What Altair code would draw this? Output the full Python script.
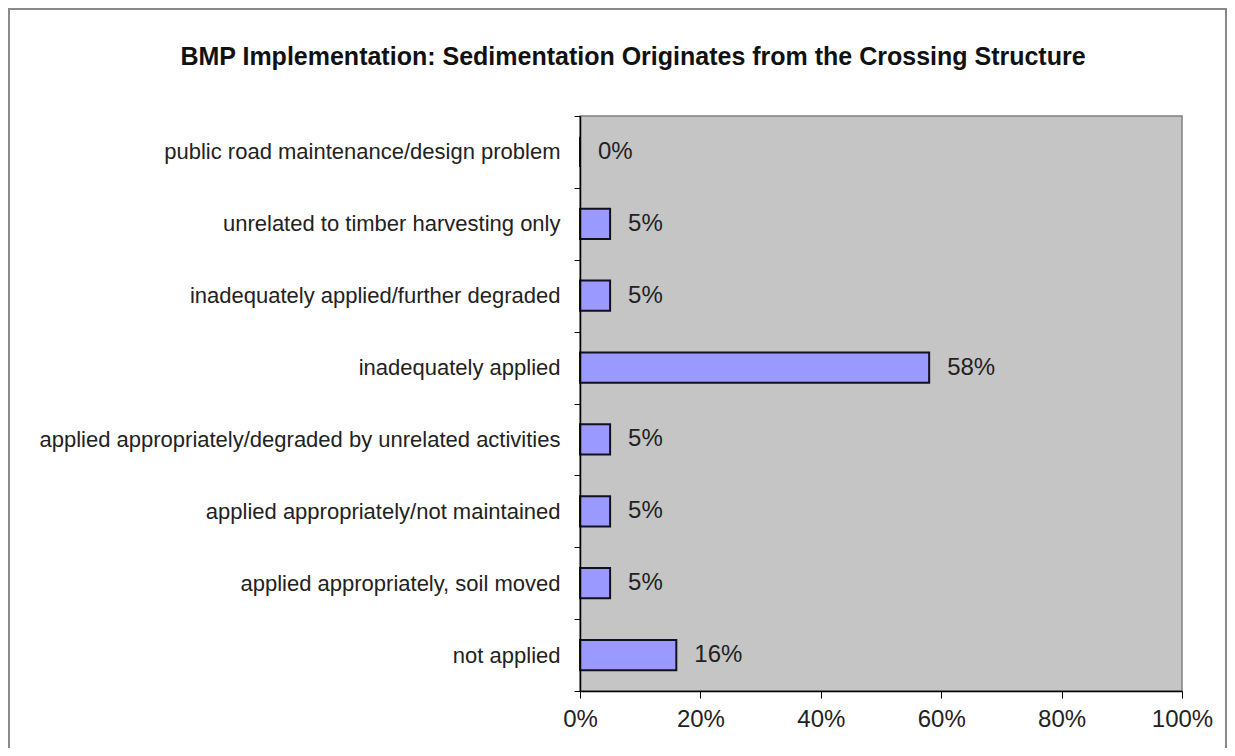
import altair as alt
import pandas as pd

title_text = "BMP Implementation: Sedimentation Originates from the Crossing Structure"
categories = [
    "public road maintenance/design problem",
    "unrelated to timber harvesting only",
    "inadequately applied/further degraded",
    "inadequately applied",
    "applied appropriately/degraded by unrelated activities",
    "applied appropriately/not maintained",
    "applied appropriately, soil moved",
    "not applied",
]
values = [0.0, 0.05, 0.05, 0.58, 0.05, 0.05, 0.05, 0.16]
labels = ["0%", "5%", "5%", "58%", "5%", "5%", "5%", "16%"]
x_ticks = [0, 0.2, 0.4, 0.6, 0.8, 1.0]

df = pd.DataFrame({"category": categories, "value": values, "label": labels})
title_df = pd.DataFrame({"t": [title_text]})

FONT = "Liberation Sans"

y_enc = alt.Y(
    "category:N",
    sort=categories,
    title=None,
    scale=alt.Scale(paddingInner=0, paddingOuter=0),
    axis=alt.Axis(
        tickBand="extent",
        labelFont=FONT,
        labelFontSize=22,
        labelColor="#222222",
        labelPadding=14,
        tickSize=6,
        tickColor="#000000",
        domainColor="#000000",
        domainWidth=1.5,
        labelLimit=700,
        zindex=1,
    ),
)
x_enc = alt.X(
    "value:Q",
    title=None,
    scale=alt.Scale(domain=[0, 1], nice=False),
    axis=alt.Axis(
        values=x_ticks,
        format=".0%",
        labelFont=FONT,
        labelFontSize=24,
        labelColor="#222222",
        labelPadding=9,
        labelFlush=False,
        tickSize=7,
        tickColor="#000000",
        domainColor="#000000",
        domainWidth=1.5,
        grid=False,
        zindex=1,
    ),
)

frame = alt.Chart(df).mark_rect(
    fill="transparent", stroke="#8a8a8a", strokeWidth=1.5
).encode(
    x=alt.value(-571), x2=alt.value(646), y=alt.value(-107), y2=alt.value(760)
)

title = alt.Chart(title_df).mark_text(
    align="center", baseline="middle", font=FONT, fontSize=25, fontWeight="bold",
    color="#111111"
).encode(x=alt.value(53), y=alt.value(-59), text="t:N")

bars = alt.Chart(df).mark_bar(
    color="#9999ff", stroke="#111122", strokeWidth=2, height={"band": 0.42}
).encode(x=x_enc, y=y_enc)

text = alt.Chart(df).mark_text(
    align="left", baseline="middle", dx=18, font=FONT, fontSize=24, color="#222222"
).encode(x=alt.X("value:Q"), y=alt.Y("category:N", sort=categories), text="label:N")

chart = alt.layer(frame, title, bars, text).properties(
    width=602,
    height=575,
    autosize=alt.AutoSizeParams(type="none"),
    padding={"left": 572, "top": 108, "right": 45, "bottom": 57},
).configure_view(
    fill="#c5c5c5", stroke="#808080", strokeWidth=1.5
)

chart.save("out.html", embed_options={"renderer": "svg", "actions": False})
